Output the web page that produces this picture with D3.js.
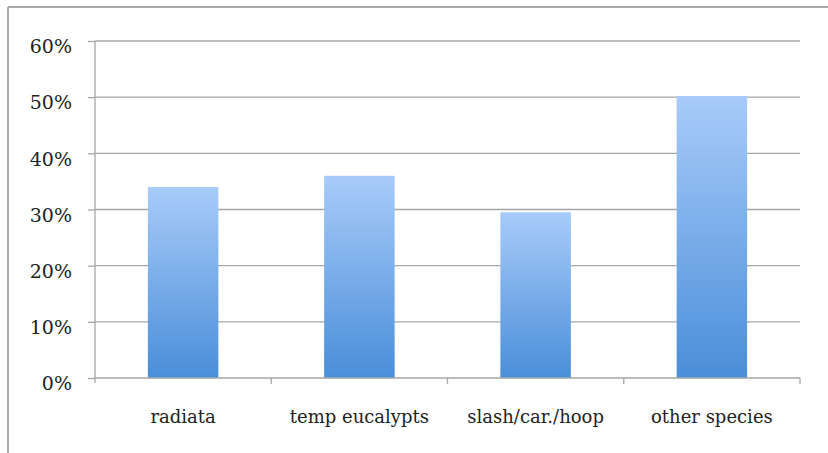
<!DOCTYPE html>
<html><head><meta charset="utf-8">
<script src="https://cdn.jsdelivr.net/npm/d3@7"></script>
<style>body{margin:0;background:#fff}svg{display:block}</style>
</head><body>
<script>
const categories = ["radiata", "temp eucalypts", "slash/car./hoop", "other species"];
const values = [0.34, 0.36, 0.295, 0.502];
const yTicks = [0, 0.1, 0.2, 0.3, 0.4, 0.5, 0.6];

const W = 828, H = 453;
const svg = d3.select("body").append("svg").attr("width", W).attr("height", H);

const defs = svg.append("defs");
const grad = defs.append("linearGradient").attr("id", "g").attr("x1", 0).attr("y1", 0).attr("x2", 0).attr("y2", 1);
grad.append("stop").attr("offset", "0%").attr("stop-color", "#a8cbf9");
grad.append("stop").attr("offset", "100%").attr("stop-color", "#4a8ed9");

// outer frame
svg.append("line").attr("x1", 8).attr("x2", W).attr("y1", 7).attr("y2", 7).attr("stroke", "#aaa").attr("stroke-width", 2);
svg.append("line").attr("x1", 8).attr("x2", 8).attr("y1", 7).attr("y2", H).attr("stroke", "#aaa").attr("stroke-width", 2);

const pLeft = 95, pRight = 800, pTop = 41, pBottom = 378;
const x = d3.scaleBand().domain(categories).range([pLeft, pRight]).paddingInner(0.6).paddingOuter(0.3);
const y = d3.scaleLinear().domain([0, 0.6]).range([pBottom, pTop]);

// gridlines
svg.append("g").selectAll("line").data(yTicks.filter(d => d > 0)).join("line")
  .attr("x1", pLeft).attr("x2", pRight).attr("y1", d => y(d)).attr("y2", d => y(d))
  .attr("stroke", "#a6a6a6").attr("stroke-width", 1.3);

// y axis
const yAxis = svg.append("g").attr("transform", `translate(${pLeft},0)`)
  .call(d3.axisLeft(y).tickValues(yTicks).tickFormat(d3.format(".0%")).tickSize(7).tickPadding(16));
yAxis.select(".domain").attr("stroke", "#a6a6a6").attr("stroke-width", 1.3).attr("d", `M0,${pTop}V${pBottom + 5}`);
yAxis.selectAll(".tick line").attr("stroke", "#a6a6a6").attr("stroke-width", 1.3);
yAxis.selectAll("text").attr("font-family", "DejaVu Serif").attr("font-size", 19).attr("fill", "#222").attr("dy", "0.62em");

// bars
svg.append("g").selectAll("rect").data(categories).join("rect")
  .attr("x", d => x(d)).attr("width", x.bandwidth())
  .attr("y", (d, i) => y(values[i])).attr("height", (d, i) => y(0) - y(values[i]))
  .attr("fill", "url(#g)");

// x axis
const step = x.step();
const xAxis = svg.append("g").attr("transform", `translate(0,${pBottom})`);
xAxis.append("line").attr("x1", pLeft).attr("x2", pRight).attr("y1", 0).attr("y2", 0).attr("stroke", "#a6a6a6").attr("stroke-width", 1.3);
const bounds = d3.range(categories.length + 1).map(i => pLeft + i * step);
xAxis.selectAll(".bt").data(bounds.slice(1)).join("line").attr("class", "bt")
  .attr("x1", d => d).attr("x2", d => d).attr("y1", 0).attr("y2", 6).attr("stroke", "#a6a6a6").attr("stroke-width", 1.3);
xAxis.selectAll("text").data(categories).join("text")
  .attr("x", d => x(d) + x.bandwidth() / 2).attr("y", 45)
  .attr("text-anchor", "middle").attr("font-family", "DejaVu Serif").attr("font-size", 18).attr("fill", "#222")
  .text(d => d);
</script>
</body></html>
